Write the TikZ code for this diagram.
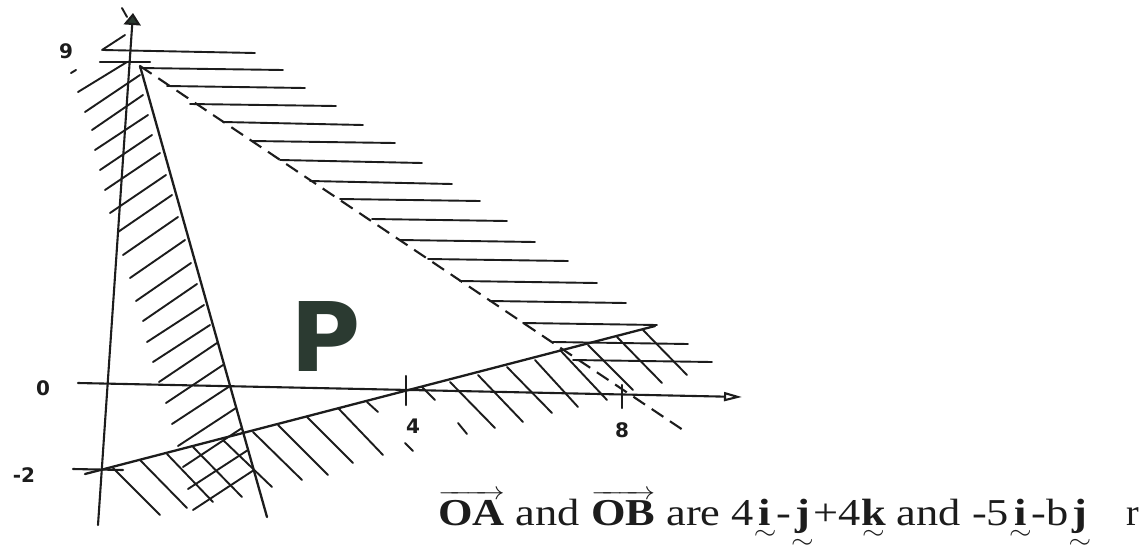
\documentclass[tikz,border=0pt]{standalone}
\usepackage{amsmath}
\usepackage{graphicx}
\usepackage{fontspec}
\setmainfont{Liberation Serif}
\newfontfamily\digitfont{DejaVu Sans}
\usetikzlibrary{arrows.meta}
\definecolor{ink}{HTML}{1C1C1C}
\definecolor{pgreen}{HTML}{2B3A31}
\newcommand\ubold[1]{$\underset{\sim}{\text{\textbf{#1}}}$}
\newcommand\vecb[1]{$\overrightarrow{\text{\textbf{#1}}}$}
\begin{document}
\begin{tikzpicture}[x=1pt,y=-1pt,line cap=round,
  axisline/.style={draw=ink,line width=2.1pt},
  bound/.style={draw=ink,line width=2.3pt},
  hatch/.style={draw=ink,line width=1.9pt},
  dashedbound/.style={draw=ink,line width=2.1pt,dash pattern=on 14pt off 8pt,line cap=butt},
  axlabel/.style={font=\digitfont\bfseries\fontsize{20}{20}\selectfont,anchor=base,inner sep=0pt,text=ink}]
\useasboundingbox[fill=white] (0,0) rectangle (1143,554);

% key points
\coordinate (V) at (140,66);
\coordinate (S) at (267,517);
\coordinate (D) at (683,430);
\coordinate (L0) at (85,474);
\coordinate (L1) at (655,326);
\coordinate (Ybot) at (98,525);
\coordinate (Ytop) at (133,13);
\coordinate (Xl) at (78,383);
\coordinate (Xr) at (742,397);

% horizontal hatching (above dashed line)
\foreach \a/\b/\c/\d in {103/50/255/53,140/68/283/70,167/86/305/88,190/104/336/106,
  223/122/363/125,252/141/395/143,280/160/422/163,310/181/452/184,340/199/480/201,
  372/219/507/221,400/240/535/242,428/259/568/261,460/281/597/283,490/301/626/303,
  523/323/657/325,553/342/688/344,573/360/712/362}
  \draw[hatch] (\a,\b) -- (\c,\d);

% "/" hatching (left of steep line)
\foreach \a/\b/\c/\d in {102/50/125/35,78/92/127/62,85/112/140/75,92/130/143/95,
  95/150/148/115,100/170/152/135,105/190/160/153,110/213/166/175,118/232/172/195,
  123/255/178/217,130/278/185/240,136/301/191/263,143/321/197/284,147/342/204/305,
  153/362/210/325,159/382/217/343,166/403/223/365,172/424/230/386,178/446/236/408,
  183/467/242/428,188/489/248/450,193/510/254/470}
  \draw[hatch] (\a,\b) -- (\c,\d);

% "\" hatching (below shallow line)
\foreach \a/\b/\c/\d in {113/468/160/515,140/460/187/508,167/454/213/502,193/447/242/497,
  223/440/272/487,253/432/302/480,278/425/328/475,307/417/353/463,338/408/383/455,
  367/402/378/412,422/387/435/400,450/382/495/428,478/375/523/422,507/367/552/413,
  535/360/578/407,560/350/607/400,588/345/633/390,617/337/662/383,643/330/687/375}
  \draw[hatch] (\a,\b) -- (\c,\d);

% stray marks
\draw[hatch] (122,8) -- (127,17);
\draw[hatch] (71,73) -- (76,70);
\draw[hatch] (405,443) -- (413,451);
\draw[hatch] (458,423) -- (467,434);

% boundary lines
\draw[bound] (V) -- (S);
\draw[dashedbound] (V) -- (D);
\draw[bound] (L0) -- (L1);

% axes
\draw[axisline,-{Triangle[width=17pt,length=12pt,fill=pgreen]}] (Ybot) -- (Ytop);
\draw[axisline,-{Triangle[open,width=9pt,length=18pt]}] (Xl) -- (Xr);

% ticks
\draw[axisline] (406,376) -- (406,405);
\draw[axisline] (622,385) -- (622,408);
\draw[axisline] (73,469) -- (123,470);
\draw[axisline] (100,62) -- (150,62);

% labels
\node[axlabel] (l9) at (66,58) {9};
\node[axlabel] (l0) at (43,395) {0};
\node[axlabel] (lm2) at (24,482) {-2};
\node[axlabel] (l4) at (413,433) {4};
\node[axlabel] (l8) at (622,437) {8};

\node[anchor=base,inner sep=0pt,text=pgreen,font=\digitfont\bfseries\fontsize{96}{96}\selectfont] (P) at (326,371) {P};

\node[anchor=base west,inner sep=0pt,text=ink,font=\fontsize{38}{40}\selectfont] (T) at (438,525)
  {\resizebox{653pt}{\height}{\vecb{OA} and \vecb{OB} are 4\ubold{i}-\ubold{j}+4\ubold{k} and -5\ubold{i}-b\ubold{j}}};
\node[anchor=base west,inner sep=0pt,text=ink,font=\fontsize{38}{40}\selectfont] (Tr) at (1126,525) {r};
\end{tikzpicture}
\end{document}
